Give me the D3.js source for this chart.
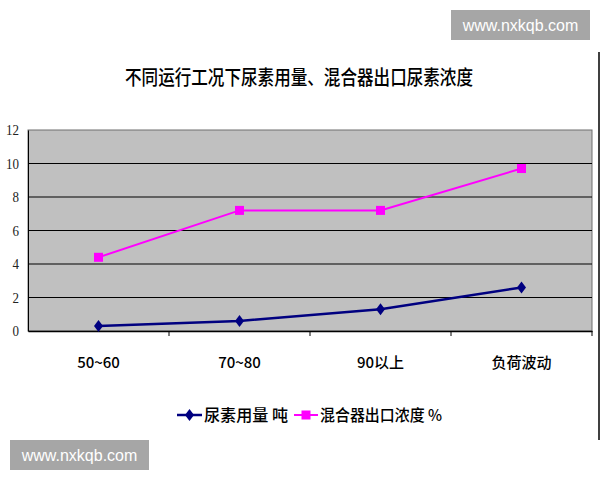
<!DOCTYPE html>
<html><head><meta charset="utf-8">
<script src="https://cdn.jsdelivr.net/npm/d3@7/dist/d3.min.js"></script>
<style>body{margin:0;background:#fff;}svg{display:block;}</style>
</head><body>
<svg id="c" width="600" height="480"></svg>
<script>
const categories = ["50~60", "70~80", "90以上", "负荷波动"];
const ureaUsage = [0.3, 0.6, 1.3, 2.6];
const mixerConc = [4.4, 7.2, 7.2, 9.7];
const yTicks = [0, 2, 4, 6, 8, 10, 12];
const seriesNames = ["尿素用量 吨", "混合器出口浓度 %"];
const titleText = "不同运行工况下尿素用量、混合器出口尿素浓度";
const watermark = "www.nxkqb.com";

const svg = d3.select("#c");
const L = 28, R = 592, T = 130, B = 331;
const x = d3.scaleBand().domain(categories).range([L, R]);
const y = d3.scaleLinear().domain([0, 12]).range([B, T]);
const cjk = "'Noto Sans CJK SC','Noto Sans',sans-serif";

// plot background
svg.append("rect").attr("x", L).attr("y", T).attr("width", R - L).attr("height", B - T)
  .attr("fill", "#c0c0c0").attr("stroke", "#6e6e6e").attr("stroke-width", 1);

// gridlines
svg.append("g").selectAll("line").data(yTicks.filter(d => d > 0 && d < 12)).join("line")
  .attr("x1", L).attr("x2", R).attr("y1", d => y(d)).attr("y2", d => y(d))
  .attr("stroke", "#000").attr("stroke-width", 1);

// y axis
const ya = svg.append("g").attr("transform", `translate(${L},0)`)
  .call(d3.axisLeft(y).tickValues(yTicks).tickSize(0).tickPadding(9));
ya.select(".domain").attr("stroke", "#000");
ya.selectAll("text").attr("font-family", "'Liberation Serif','DejaVu Serif',serif")
  .attr("font-size", 15).attr("fill", "#222")
  .attr("textLength", d => d >= 10 ? 13 : 6.5).attr("lengthAdjust", "spacingAndGlyphs");

// x axis
const xa = svg.append("g").attr("transform", `translate(0,${B})`)
  .call(d3.axisBottom(x).tickSize(0).tickPadding(26));
xa.select(".domain").attr("stroke", "#000").attr("stroke-width", 1.5);
xa.selectAll("text").attr("font-family", cjk).attr("font-size", 15).attr("font-weight", 500).attr("fill", "#000");
// category boundary ticks
svg.append("g").selectAll("line").data(categories.slice(1).concat(["__end"])).join("line")
  .attr("x1", d => d === "__end" ? R : x(d)).attr("x2", d => d === "__end" ? R : x(d))
  .attr("y1", B).attr("y2", B + 5).attr("stroke", "#000").attr("stroke-width", 1);

const cx = (d, i) => x(categories[i]) + x.bandwidth() / 2;
const line = d3.line().x((d, i) => cx(d, i)).y(d => y(d));

// pink series
svg.append("path").datum(mixerConc).attr("d", line).attr("fill", "none")
  .attr("stroke", "#ff00ff").attr("stroke-width", 2);
svg.append("g").selectAll("rect").data(mixerConc).join("rect")
  .attr("x", (d, i) => cx(d, i) - 4.5).attr("y", d => y(d) - 4.5)
  .attr("width", 9).attr("height", 9).attr("fill", "#ff00ff");

// navy series
const diamond = "M0,-6L4.5,0L0,6L-4.5,0Z";
svg.append("path").datum(ureaUsage).attr("d", line).attr("fill", "none")
  .attr("stroke", "#000080").attr("stroke-width", 2.5);
svg.append("g").selectAll("path").data(ureaUsage).join("path")
  .attr("transform", (d, i) => `translate(${cx(d, i)},${y(d)})`)
  .attr("d", diamond).attr("fill", "#000080");

// title
svg.append("text").attr("x", 299).attr("y", 85).attr("text-anchor", "middle")
  .attr("font-family", cjk).attr("font-size", 20).attr("font-weight", 500)
  .attr("textLength", 348).attr("lengthAdjust", "spacingAndGlyphs")
  .attr("fill", "#000").text(titleText);

// legend
const lg = svg.append("g");
lg.append("line").attr("x1", 177).attr("x2", 202).attr("y1", 415).attr("y2", 415)
  .attr("stroke", "#000080").attr("stroke-width", 2.5);
lg.append("path").attr("transform", "translate(189.5,415)").attr("d", diamond).attr("fill", "#000080");
lg.append("text").attr("x", 204).attr("y", 421).attr("font-family", cjk).attr("font-size", 16)
  .attr("font-weight", 500).attr("textLength", 84).attr("lengthAdjust", "spacingAndGlyphs").text(seriesNames[0]);
lg.append("line").attr("x1", 294).attr("x2", 318).attr("y1", 415).attr("y2", 415)
  .attr("stroke", "#ff00ff").attr("stroke-width", 2);
lg.append("rect").attr("x", 301.5).attr("y", 410.5).attr("width", 9).attr("height", 9).attr("fill", "#ff00ff");
lg.append("text").attr("x", 320).attr("y", 421).attr("font-family", cjk).attr("font-size", 16)
  .attr("font-weight", 500).attr("textLength", 122).attr("lengthAdjust", "spacingAndGlyphs").text(seriesNames[1]);

// right frame edge
svg.append("line").attr("x1", 599).attr("x2", 599).attr("y1", 52).attr("y2", 440)
  .attr("stroke", "#000").attr("stroke-width", 1.5);

// watermarks
function wm(x0, y0) {
  svg.append("rect").attr("x", x0).attr("y", y0).attr("width", 139).attr("height", 30).attr("fill", "#a6a6a6");
  svg.append("text").attr("x", x0 + 69.5).attr("y", y0 + 20.5).attr("text-anchor", "middle")
    .attr("font-family", "'Liberation Sans',Arial,sans-serif").attr("font-size", 16)
    .attr("fill", "#fff").text(watermark);
}
wm(451, 10);
wm(10, 440);
</script>
</body></html>
